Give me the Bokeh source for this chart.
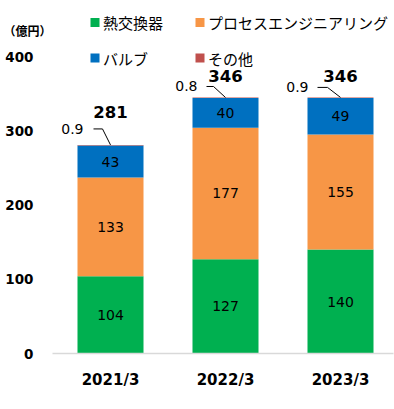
import numpy as np
from bokeh.plotting import figure
from bokeh.models import ColumnDataSource, FixedTicker, LinearAxis
from bokeh.core.properties import value
from bokeh.embed import file_html
from bokeh.resources import INLINE

# ---- data ----
categories = ["2021/3", "2022/3", "2023/3"]
heat_exchangers = [104, 127, 140]
process_engineering = [133, 177, 155]
valves = [43, 40, 49]
others = [0.9, 0.8, 0.9]
totals = [281, 346, 346]
y_ticks = [0, 100, 200, 300, 400]
series_names = ["熱交換器", "プロセスエンジニアリング", "バルブ", "その他"]
colors = ["#00B050", "#F79646", "#0070C0", "#C0504D"]
unit_label = "（億円）"

# ---- geometry ----
W, H = 394, 409
LEFT, RIGHT, TOP, BOTTOM = 52, 1, 0, 56
FW = W - LEFT - RIGHT
FH = H - TOP - BOTTOM
PX_PER_Y = 297 / 400
PX_PER_X = 115
x_start = -58 / PX_PER_X
x_end = x_start + FW / PX_PER_X
y_end = FH / PX_PER_Y

def dx(px):
    return px / PX_PER_X

def dy(px):
    return px / PX_PER_Y

def fig_x(fx):
    return x_start + (fx - LEFT) / PX_PER_X

def fig_y(fy):
    return (FH - (fy - TOP)) / PX_PER_Y

NUM_FONT = value("DejaVu Sans")
JP_FONT = value("Noto Sans CJK JP")

p = figure(width=W, height=H, x_range=(x_start, x_end), y_range=(0, y_end),
           output_backend="svg", toolbar_location=None,
           min_border_left=LEFT, min_border_right=RIGHT,
           min_border_top=TOP, min_border_bottom=BOTTOM)
p.title.visible = False
p.outline_line_color = None
p.grid.visible = False
p.background_fill_color = "white"
p.border_fill_color = "white"

x = np.arange(len(categories))
keys = ["heat", "proc", "valve", "other"]
source = ColumnDataSource(dict(x=x, heat=heat_exchangers, proc=process_engineering,
                               valve=valves, other=others))
p.vbar_stack(keys, x="x", width=0.574, color=colors, line_color=None, source=source)

# segment value labels
series = [heat_exchangers, process_engineering, valves]
bottoms = np.zeros(len(categories))
lx, ly, lt = [], [], []
for s in series:
    s = np.array(s, dtype=float)
    mids = bottoms + s / 2
    lx += list(x); ly += list(mids); lt += [str(int(v)) for v in s]
    bottoms = bottoms + s
p.text(x=lx, y=ly, text=lt, text_align="center", text_baseline="middle",
       text_font=NUM_FONT, text_font_size="14px", text_color="black")

tops = np.array(heat_exchangers) + np.array(process_engineering) + np.array(valves) + np.array(others)

# totals
total_dy = [-33, -21, -21]
for i in range(len(categories)):
    p.text(x=[x[i]], y=[tops[i]], text=[str(totals[i])], text_align="center",
           text_baseline="middle", y_offset=total_dy[i], text_font=NUM_FONT,
           text_font_size="16.5px", text_font_style="bold", text_color="black")

# "others" labels with leader lines
leader_h = [16, 11, 10]
label_dx = [-27, -28, -32]
start_dx = [-17, -19, -23]
elbow_dx = [-8, -12, -13]
xs, ys = [], []
for i in range(len(categories)):
    h = leader_h[i]
    xs.append([x[i] + dx(start_dx[i]), x[i] + dx(elbow_dx[i]), x[i]])
    ys.append([tops[i] + dy(h), tops[i] + dy(h), tops[i]])
    p.text(x=[x[i] + dx(label_dx[i])], y=[tops[i] + dy(h)], text=[f"{others[i]}"],
           text_align="right", text_baseline="middle", text_font=NUM_FONT,
           text_font_size="14px", text_color="black")
p.multi_line(xs, ys, line_color="black", line_width=1)

# legend (manual, 2x2)
leg_cols = [94.5, 199.5]
leg_rows = [22, 57.5]
for k, name in enumerate(series_names):
    r, c = divmod(k, 2)
    sx, sy = fig_x(leg_cols[c]), fig_y(leg_rows[r])
    p.scatter([sx], [sy], marker="square", size=9, color=colors[k], line_color=None)
    p.text(x=[sx], y=[sy], text=[name], x_offset=8, text_align="left",
           text_baseline="middle", text_font=JP_FONT, text_font_size="15px",
           text_color="black")

# axes
p.xaxis.ticker = FixedTicker(ticks=list(x))
p.xaxis.major_label_overrides = {int(i): c for i, c in zip(x, categories)}
p.xaxis.axis_line_color = "#D9D9D9"
p.xaxis.axis_line_width = 1.5
p.xaxis.major_tick_line_color = None
p.xaxis.minor_tick_line_color = None
p.xaxis.major_tick_out = 0
p.xaxis.major_label_standoff = 17
p.xaxis.major_label_text_font = "DejaVu Sans"
p.xaxis.major_label_text_font_style = "bold"
p.xaxis.major_label_text_font_size = "15px"
p.xaxis.major_label_text_color = "black"

p.yaxis.ticker = FixedTicker(ticks=y_ticks)
p.yaxis.axis_line_color = None
p.yaxis.major_tick_line_color = None
p.yaxis.minor_tick_line_color = None
p.yaxis.major_tick_out = 0
p.yaxis.major_tick_in = 0
p.yaxis.major_label_standoff = 19
p.yaxis.major_label_text_font = "DejaVu Sans"
p.yaxis.major_label_text_font_style = "bold"
p.yaxis.major_label_text_font_size = "13.5px"
p.yaxis.major_label_text_color = "black"

# unit label as an outer left axis with a single tick
unit_y = fig_y(30)
unit_axis = LinearAxis(ticker=FixedTicker(ticks=[unit_y]),
                       major_label_overrides={unit_y: unit_label})
unit_axis.axis_line_color = None
unit_axis.major_tick_line_color = None
unit_axis.minor_tick_line_color = None
unit_axis.major_tick_out = 0
unit_axis.major_tick_in = 0
unit_axis.major_label_standoff = -49
unit_axis.major_label_text_font = "Noto Sans CJK JP"
unit_axis.major_label_text_font_style = "bold"
unit_axis.major_label_text_font_size = "12px"
unit_axis.major_label_text_color = "black"
p.add_layout(unit_axis, "left")

open("out.html", "w").write(file_html(p, INLINE))
